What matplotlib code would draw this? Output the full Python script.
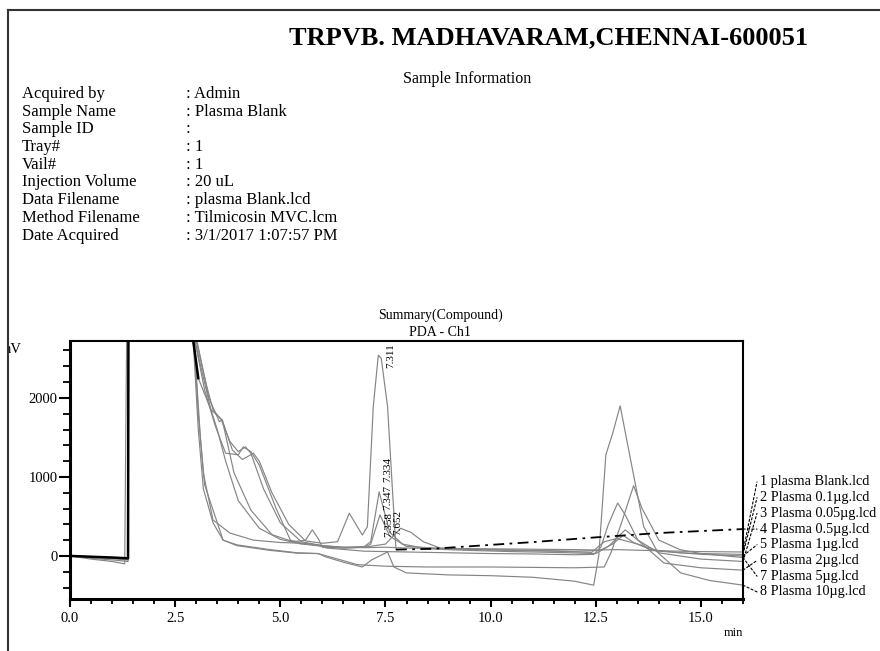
import matplotlib
matplotlib.use("Agg")
import matplotlib.pyplot as plt
from matplotlib.ticker import MultipleLocator, FixedLocator, FormatStrFormatter
from matplotlib.lines import Line2D
from matplotlib.patches import Rectangle, ConnectionPatch

plt.rcParams['font.family'] = ['Liberation Serif', 'DejaVu Serif']

# header info
info_keys = ["Acquired by", "Sample Name", "Sample ID", "Tray#", "Vail#",
             "Injection Volume", "Data Filename", "Method Filename", "Date Acquired"]
info_vals = [": Admin", ": Plasma Blank", ":", ": 1", ": 1", ": 20 uL",
             ": plasma Blank.lcd", ": Tilmicosin MVC.lcm", ": 3/1/2017 1:07:57 PM"]

trace_names = ["1 plasma Blank.lcd", "2 Plasma 0.1\u00b5g.lcd", "3 Plasma 0.05\u00b5g.lcd",
               "4 Plasma 0.5\u00b5g.lcd", "5 Plasma 1\u00b5g.lcd", "6 Plasma 2\u00b5g.lcd",
               "7 Plasma 5\u00b5g.lcd", "8 Plasma 10\u00b5g.lcd"]

# chromatograms, time (min) / signal (mV)
t1 = [0, 0.5, 1.0, 1.38, 1.40, 2.85, 2.93, 3.05, 3.2, 3.35, 3.5, 3.7, 4.0, 4.5, 5.0, 5.5, 5.75,
      6.0, 6.5, 7.0, 7.5, 8.0, 9.0, 10.0, 11.0, 12.0, 12.5, 13.0, 14.0, 15.0, 16.0]
v1 = [0, -10, -20, -30, 6000, 6000, 2720, 2250, 2050, 1850, 1600, 1200, 700, 350, 210, 150, 140,
      130, 110, 105, 110, 100, 95, 90, 85, 80, 75, 80, 65, 55, 50]

t2 = [0, 0.5, 1.0, 1.38, 1.40, 2.88, 2.97, 3.2, 3.35, 3.5, 3.62, 3.9, 4.3, 4.8, 5.3, 5.6, 5.76,
      5.9, 6.0, 6.5, 7.0, 7.15, 7.37, 7.6, 8.0, 9.0, 10.0, 11.0, 12.0, 12.6, 12.9, 13.15, 13.4,
      13.8, 14.5, 15.0, 16.0]
v2 = [0, -15, -25, -40, 6000, 6000, 2720, 2190, 1850, 1780, 1720, 1050, 580, 270, 180, 200, 330,
      220, 110, 100, 110, 150, 520, 250, 120, 90, 80, 70, 60, 70, 150, 260, 170, 80, 40, 30, 20]

t3 = [0, 0.5, 1.0, 1.38, 1.40, 2.9, 3.0, 3.25, 3.4, 3.6, 3.8, 4.0, 4.17, 4.3, 4.6, 5.0, 5.5,
      6.0, 6.5, 7.0, 7.15, 7.35, 7.6, 7.9, 8.5, 9.5, 10.5, 11.5, 12.5, 12.8, 13.2, 13.5, 14.0,
      15.0, 16.0]
v3 = [0, -10, -25, -35, 6000, 6000, 2720, 2150, 1850, 1720, 1450, 1320, 1380, 1300, 850, 420, 180,
      130, 110, 120, 180, 810, 300, 150, 90, 70, 55, 45, 30, 120, 330, 200, 40, -40, -70]

t4 = [0, 0.5, 1.0, 1.38, 1.40, 2.9, 3.02, 3.3, 3.55, 3.62, 3.86, 4.1, 4.36, 4.5, 4.8, 5.2, 5.6,
      6.0, 6.36, 6.64, 6.95, 7.07, 7.21, 7.33, 7.4, 7.55, 7.62, 7.75]
v4 = [0, -10, -20, -30, 6000, 6000, 2720, 2000, 1700, 1720, 1340, 1220, 1300, 1200, 800, 400, 190,
      160, 180, 540, 265, 370, 1890, 2540, 2500, 1890, 1250, 80]
# straight drifting part of trace 4 (dash-dot)
t4b = [7.75, 8.6, 10.0, 11.0, 12.5, 14.0, 16.0]
v4b = [80, 90, 140, 175, 235, 290, 340]

t5 = [0, 0.5, 1.0, 1.38, 1.40, 2.88, 2.97, 3.2, 3.45, 3.7, 4.0, 4.12, 4.3, 4.5, 4.9, 5.24, 5.6,
      6.0, 6.5, 7.0, 7.5, 7.86, 8.1, 8.4, 8.8, 9.5, 10.5, 11.5, 12.4, 12.7, 13.0, 13.5, 14.0,
      15.0, 16.0]
v5 = [0, -15, -30, -45, 6000, 6000, 2720, 2100, 1650, 1300, 1280, 1380, 1320, 1150, 600, 200, 150,
      120, 100, 110, 150, 350, 300, 180, 100, 80, 70, 60, 45, 180, 220, 150, 60, 20, 0]

t6 = [0, 0.5, 1.0, 1.38, 1.40, 2.85, 2.95, 3.05, 3.17, 3.4, 3.8, 4.36, 5.0, 5.55, 5.9, 6.1, 7.0,
      8.0, 9.0, 10.0, 11.0, 12.0, 12.45, 12.62, 12.8, 13.02, 13.2, 13.5, 14.12, 15.0, 16.0]
v6 = [0, -20, -35, -50, 6000, 6000, 2720, 1800, 1050, 455, 290, 200, 170, 160, 140, 100, 60,
      50, 40, 30, 25, 15, 20, 110, 400, 670, 520, 200, -90, -150, -180]

t7 = [0, 0.5, 1.0, 1.38, 1.40, 2.85, 2.93, 3.05, 3.17, 3.4, 3.64, 3.97, 4.76, 5.4, 5.9, 6.1, 6.5,
      6.83, 7.5, 8.5, 10.0, 11.0, 12.0, 12.7, 12.86, 13.1, 13.4, 13.6, 14.0, 14.5, 15.0, 16.0]
v7 = [0, -30, -50, -70, 6000, 6000, 2720, 1600, 850, 420, 200, 140, 80, 40, 30, 0, -60,
      -110, -130, -140, -140, -145, -150, -140, 40, 400, 890, 600, 200, 80, 30, -20]

t8 = [0, 0.5, 1.0, 1.30, 1.40, 2.85, 2.95, 3.1, 3.2, 3.64, 3.97, 4.76, 5.4, 5.9, 6.07, 6.5, 6.95,
      7.17, 7.55, 7.7, 8.0, 9.0, 10.0, 11.0, 12.0, 12.45, 12.57, 12.74, 12.9, 13.08, 13.33, 13.64,
      13.98, 14.52, 15.2, 16.0]
v8 = [0, -40, -70, -100, 6000, 6000, 2720, 1500, 900, 200, 130, 70, 35, 30, -10, -80, -140,
      -50, 50, -140, -215, -240, -250, -270, -320, -370, 0, 1280, 1550, 1900, 1210, 370,
      40, -215, -310, -370]

traces_t = [t1, t2, t3, t4, t5, t6, t7, t8]
traces_v = [v1, v2, v3, v4, v5, v6, v7, v8]
end_vals = [v1[-1], v2[-1], v3[-1], v4b[-1], v5[-1], v6[-1], v7[-1], v8[-1]]

# retention time labels near the 7.3 min peaks: (time, top value, text)
peak_labels = [(7.62, 2690, "7.311"), (7.55, 1250, "7.334"), (7.55, 900, "7.347"),
               (7.57, 560, "7.358"), (7.80, 580, "7.652")]

W, H = 880, 651
fig = plt.figure(figsize=(W / 100, H / 100), dpi=100)
fig.patch.set_facecolor('white')


def fx(px):
    return px / W


def fy(py):
    return 1 - py / H


# header block
fig.text(fx(549), fy(38), "TRPVB. MADHAVARAM,CHENNAI-600051", ha='center', va='center',
         fontsize=19, fontweight='bold')
fig.text(fx(467), fy(79), "Sample Information", ha='center', va='center', fontsize=11.5)
for i, (k, v) in enumerate(zip(info_keys, info_vals)):
    y = fy(94 + 17.7 * i)
    fig.text(fx(22), y, k, ha='left', va='center', fontsize=12)
    fig.text(fx(186), y, v, ha='left', va='center', fontsize=12)

fig.text(fx(440), fy(315), "Summary(Compound)", ha='center', va='center', fontsize=10)
fig.text(fx(440), fy(333), "PDA - Ch1", ha='center', va='center', fontsize=10)
fig.text(fx(22), fy(349), "mV", ha='right', va='center', fontsize=10.5)
fig.text(fx(743), fy(633), "min", ha='right', va='center', fontsize=9)

ax = fig.add_axes([fx(70), fy(599), fx(743) - fx(70), (599 - 341) / H])

grey = '#858585'
for t, v in zip(traces_t, traces_v):
    ax.plot(t, v, color=grey, lw=0.85, zorder=2)
# where all runs lie on top of each other the print turns solid black
k = t1.index(3.05) + 1
ax.plot(t1[:k], v1[:k], color='black', lw=1.8, zorder=3)
ax.plot(t4b, v4b, color='black', lw=1.3, linestyle=(0, (6, 3, 1.5, 3)), zorder=3)

for x, y, s in peak_labels:
    ax.text(x, y, s, rotation=90, ha='center', va='top', fontsize=8, zorder=5)

ax.set_xlim(0, 16)
ax.set_ylim(-545, 2720)
ax.xaxis.set_major_locator(MultipleLocator(2.5))
ax.xaxis.set_minor_locator(MultipleLocator(0.5))
ax.xaxis.set_major_formatter(FormatStrFormatter('%.1f'))
ax.yaxis.set_major_locator(FixedLocator([0, 1000, 2000]))
ax.yaxis.set_minor_locator(MultipleLocator(200))
ax.tick_params(axis='both', which='major', direction='out', width=1.5, labelsize=10.5)
ax.tick_params(axis='x', which='major', length=6, pad=3)
ax.tick_params(axis='y', which='major', length=8, pad=1)
ax.tick_params(axis='x', which='minor', direction='out', length=3.5, width=1.3)
ax.tick_params(axis='y', which='minor', direction='out', length=5, width=1.3)
for side in ['left', 'bottom']:
    ax.spines[side].set_linewidth(2.2)
for side in ['top', 'right']:
    ax.spines[side].set_linewidth(1.5)

# legend labels with leader lines to trace ends
for i, name in enumerate(trace_names):
    py = 482 + 15.7 * i
    fig.text(fx(760), fy(py), name, ha='left', va='center', fontsize=10.3)
    con = ConnectionPatch(xyA=(16, end_vals[i]), coordsA=ax.transData,
                          xyB=(757, H - py), coordsB='figure pixels',
                          linestyle=(0, (2, 2)), lw=0.8, color='black')
    fig.add_artist(con)

# page frame
fig.add_artist(Rectangle((0, 0), fx(8), 1, transform=fig.transFigure,
                         facecolor='white', edgecolor='none', zorder=10))
fig.add_artist(Line2D([fx(8), fx(8)], [0, fy(10)], color='#333333', lw=1.5, zorder=11))
fig.add_artist(Line2D([fx(8), 1], [fy(10), fy(10)], color='#333333', lw=1.5, zorder=11))

fig.savefig("out.png", dpi=100, facecolor='white')
